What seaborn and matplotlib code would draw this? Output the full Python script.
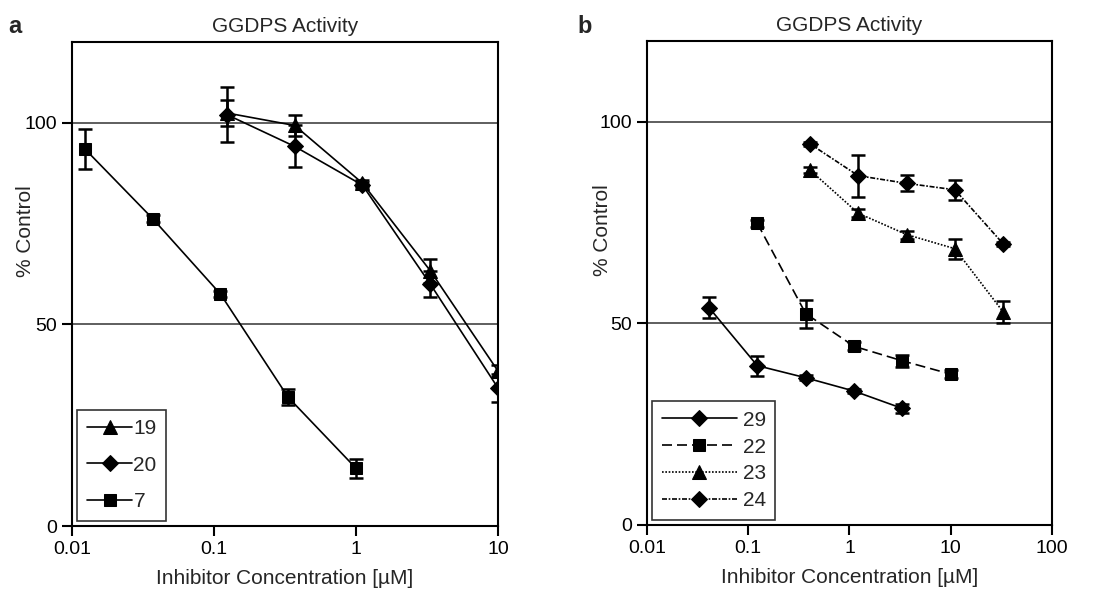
import matplotlib
matplotlib.use("Agg")
import matplotlib.pyplot as plt
import matplotlib.ticker as mticker
import seaborn as sns
import pandas as pd

sns.set_style("white")
plt.rcParams['font.family'] = ['Liberation Sans', 'DejaVu Sans']

# ---- panel a data ----
conc_a_hi = [0.123, 0.37, 1.11, 3.33, 10]
conc_a_lo = [0.0123, 0.037, 0.111, 0.333, 1.0]
c19 = [102.4, 99.3, 85.0, 63.3, 38.4]
c19_err = [3.3, 2.5, 0.8, 3.0, 1.5]
c20 = [102.0, 94.1, 84.5, 60.0, 34.2]
c20_err = [6.8, 5.2, 0.8, 3.2, 3.5]
c7 = [93.5, 76.2, 57.5, 31.9, 14.3]
c7_err = [5.0, 0.8, 0.8, 2.0, 2.3]

# ---- panel b data ----
conc_b_29 = [0.041, 0.123, 0.37, 1.11, 3.33]
conc_b_22 = [0.123, 0.37, 1.11, 3.33, 10]
conc_b_hi = [0.407, 1.22, 3.67, 11, 33]
c29 = [53.9, 39.5, 36.5, 33.2, 28.9]
c29_err = [2.5, 2.5, 0.6, 0.6, 1.2]
c22 = [74.8, 52.4, 44.3, 40.7, 37.4]
c22_err = [0.8, 3.5, 1.0, 1.5, 1.0]
c23 = [88.0, 77.3, 72.0, 68.5, 52.8]
c23_err = [0.8, 1.0, 1.0, 2.5, 2.7]
c24 = [94.5, 86.6, 84.7, 83.1, 69.7]
c24_err = [0.5, 5.2, 2.0, 2.5, 0.5]

panel_a = [
    ("19", conc_a_hi, c19, c19_err, "^", "-", 9.5),
    ("20", conc_a_hi, c20, c20_err, "D", "-", 8),
    ("7", conc_a_lo, c7, c7_err, "s", "-", 9),
]
panel_b = [
    ("29", conc_b_29, c29, c29_err, "D", "-", 8),
    ("22", conc_b_22, c22, c22_err, "s", (0, (6, 3)), 9),
    ("23", conc_b_hi, c23, c23_err, "^", (0, (1, 1)), 9.5),
    ("24", conc_b_hi, c24, c24_err, "D", (0, (3, 1, 1, 1)), 8),
]

fig = plt.figure(figsize=(11.08, 5.98), dpi=100)
ax_a = fig.add_axes([0.065, 0.1204, 0.3845, 0.8094])
ax_b = fig.add_axes([0.5839, 0.1221, 0.3655, 0.8094])


def draw_panel(ax, series, xmax, letter, letter_x, leg_kw):
    for name, x, y, err, mk, ls, ms in series:
        df = pd.DataFrame({"conc": x, "pct": y})
        ax.errorbar(x, y, yerr=err, fmt="none", ecolor="black",
                    elinewidth=1.8, capsize=5, capthick=1.8, zorder=3)
        sns.lineplot(data=df, x="conc", y="pct", ax=ax, color="black",
                     marker=mk, markersize=ms, markeredgecolor="black",
                     linestyle=ls, linewidth=1.2, label=name, zorder=4)
    ax.set_xscale("log")
    ax.set_xlim(0.01, xmax)
    ax.set_ylim(0, 120)
    ax.set_yticks([0, 50, 100])
    ax.xaxis.set_major_formatter(mticker.FuncFormatter(lambda v, p: f"{v:g}"))
    ax.xaxis.set_minor_locator(mticker.NullLocator())
    for yv in (50, 100):
        ax.axhline(yv, color="#333333", linewidth=1.1, zorder=1)
    for s in ax.spines.values():
        s.set_visible(True)
        s.set_color("black")
        s.set_linewidth(1.5)
    ax.tick_params(axis="both", direction="out", length=7, width=1.5,
                   labelsize=14, colors="black", bottom=True, left=True, pad=4)
    ax.set_xlabel("Inhibitor Concentration [µM]", fontsize=15, labelpad=8)
    ax.set_ylabel("% Control", fontsize=15)
    ax.yaxis.set_label_coords(-0.087, 0.61)
    ax.set_title("GGDPS Activity", fontsize=15, pad=7)
    leg = ax.legend(loc="lower left", fontsize=15, frameon=True, fancybox=False,
                    borderaxespad=0.25, **leg_kw)
    leg.get_frame().set_edgecolor("black")
    leg.get_frame().set_linewidth(1.2)
    fig.text(letter_x, 0.955, letter, fontsize=17, fontweight="bold",
             ha="left", va="center")


draw_panel(ax_a, panel_a, 10, "a", 0.007,
           dict(handlelength=2.2, handletextpad=0.05, borderpad=0.45,
                labelspacing=0.85))
draw_panel(ax_b, panel_b, 100, "b", 0.521,
           dict(handlelength=3.6, handletextpad=0.3, borderpad=0.45,
                labelspacing=0.38))

fig.savefig("out.png", dpi=100)
